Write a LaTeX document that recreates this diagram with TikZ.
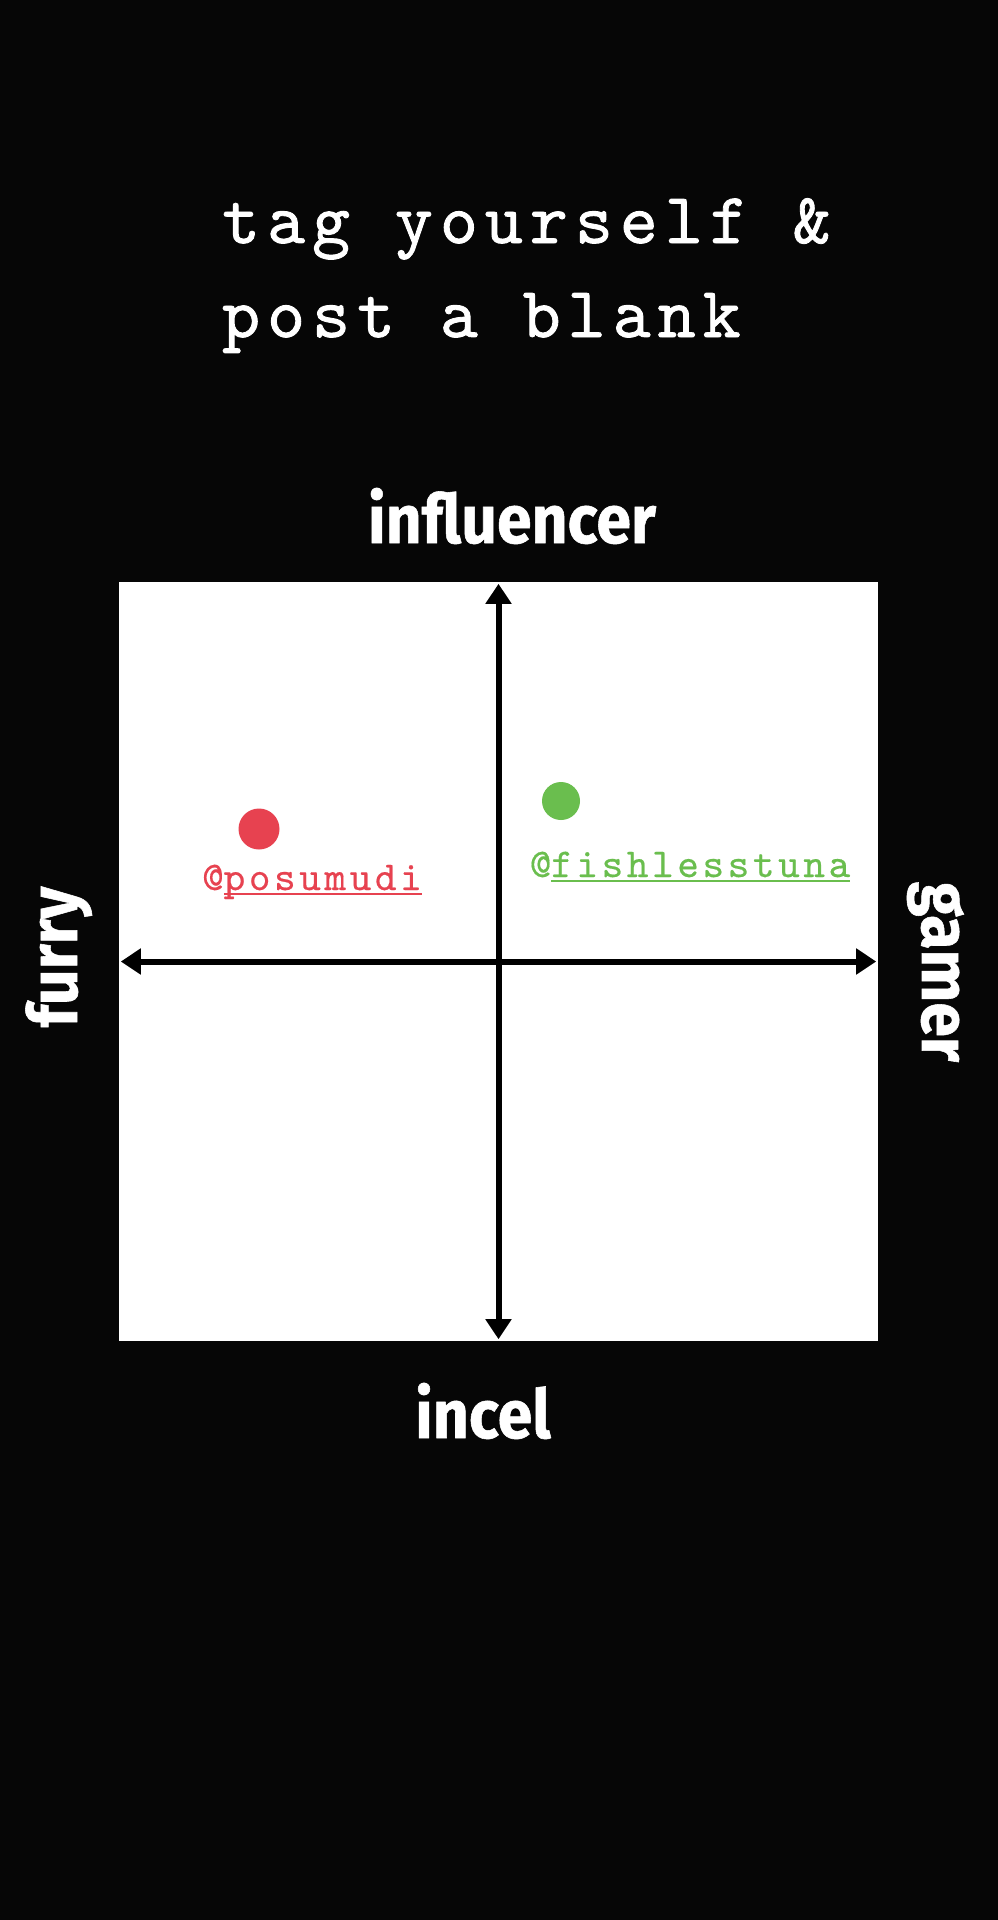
\documentclass[tikz,border=0pt]{standalone}
\usepackage{fontspec}
\usetikzlibrary{arrows.meta,positioning}
\newfontfamily\typefont[LetterSpace=10, FakeBold=1.2]{lmmono10-regular.otf}
\newfontfamily\tagfont[LetterSpace=9, FakeBold=0.4]{lmmono10-regular.otf}
\newfontfamily\axisfont[FakeStretch=0.92, BoldFeatures={FakeBold=0.8}]{Fira Sans}
\definecolor{fondN}{RGB}{6,6,6}
\definecolor{rougeP}{RGB}{231,66,80}
\definecolor{vertP}{RGB}{106,190,78}
\newcommand\souligne[1]{\setbox0\hbox{#1}\rlap{\rule[-5pt]{\wd0}{2.5pt}}\box0}
\tikzset{
  titre/.style={text=white, inner sep=0pt, font=\typefont\fontsize{72}{84}\selectfont},
  pseudo/.style={text=#1, inner sep=0pt, font=\tagfont\fontsize{41}{48}\selectfont},
  pole/.style={text=white, inner sep=0pt, font=\axisfont\bfseries\fontsize{68}{80}\selectfont},
  pastille/.style={circle, fill=#1, inner sep=0pt},
  plateau/.style={rectangle, fill=white, inner sep=0pt, minimum width=759pt, minimum height=759pt},
  axe/.style={{Triangle[length=20pt,width=25pt]}-{Triangle[length=20pt,width=25pt]}, line width=6pt, draw=black,
              shorten <=2pt, shorten >=2pt},
}

\begin{document}
\begin{tikzpicture}[x=1pt, y=-1pt]
  \useasboundingbox (0,0) rectangle (998,1920);
  \fill[fondN] (0,0) rectangle (998,1920);

  \node[titre, anchor=base west] (ligne1) at (222,243) {tag yourself \&};
  \node[titre, anchor=base west] (ligne2) at ([yshift=-94pt]ligne1.base west) {post a blank};

  \node[plateau] (board) at (498.5,961.5) {};
  \draw[axe] (board.north) -- (board.south);
  \draw[axe] (board.west) -- (board.east);

  \node[pole, anchor=base] (haut) at (512,543) {influencer};
  \node[pole, anchor=base] (bas) at (483,1438) {incel};
  \node[pole, anchor=base, rotate=90] (gauche) at (77,957) {furry};
  \node[pole, anchor=base, rotate=-90] (droite) at (922,972) {gamer};

  \node[pastille=rougeP, minimum size=41pt] (pdot) at (259,829) {};
  \node[pseudo=rougeP, anchor=base] (pnom) at (312,890) {@\souligne{posumudi}};
  \node[pastille=vertP, minimum size=38pt] (fdot) at (561,801) {};
  \node[pseudo=vertP, anchor=base] (fnom) at (690,877) {@\souligne{fishlesstuna}};
\end{tikzpicture}
\end{document}
